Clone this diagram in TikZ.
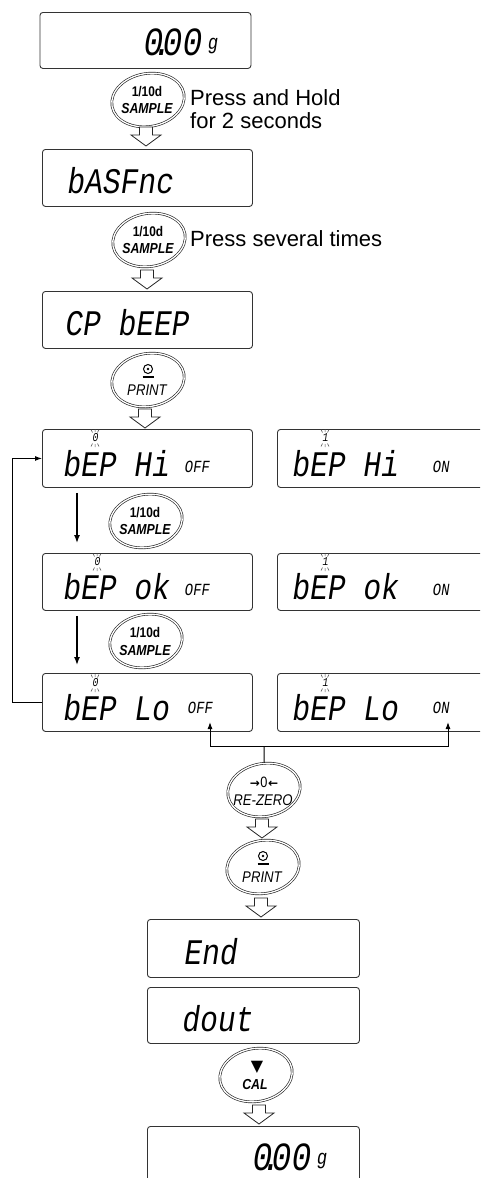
\documentclass[tikz,border=0pt]{standalone}
\usepackage{fontspec}
\setmainfont{Liberation Sans}
\newfontfamily\segf{Liberation Mono}[FakeSlant=0.15,FakeStretch=0.82]
\newfontfamily\narrowsans{Liberation Sans}[FakeStretch=0.85]
\newfontfamily\symf{DejaVu Sans}
\usetikzlibrary{shapes.geometric,arrows.meta,calc}
\newcommand\harrow[1]{\draw[harr] (#1) ++(-6.5,0) -- ++(0,8) -- ++(-8.5,0) -- ++(15,11) -- ++(15,-11) -- ++(-8.5,0) -- ++(0,-8) -- cycle;}
\newcommand\blinkmark[3]{%
  \node[font=\segf\fontsize{12}{12}\selectfont, inner sep=0pt] (#1) at (#2) {#3};
  \draw[line width=0.5pt, black!70]
    ($(#1)+(-2.5,-5.5)$) -- ($(#1)+(-4,-8.5)$) ($(#1)+(0,-6)$) -- ($(#1)+(0,-9)$) ($(#1)+(2.5,-5.5)$) -- ($(#1)+(4,-8.5)$)
    ($(#1)+(-2.5,5.5)$) -- ($(#1)+(-4,8.5)$) ($(#1)+(0,6)$) -- ($(#1)+(0,9)$) ($(#1)+(2.5,5.5)$) -- ($(#1)+(4,8.5)$);}
\begin{document}
\begin{tikzpicture}[x=1pt,y=-1pt,
 lcd/.style={draw=black!80, line width=0.9pt, rounded corners=3pt, minimum width=210pt, minimum height=57pt, anchor=north west, inner sep=0pt},
 seg/.style={font=\segf\fontsize{36}{36}\selectfont, inner sep=0pt, anchor=base west},
 segs/.style={font=\segf\fontsize{17}{17}\selectfont, inner sep=0pt, anchor=base west},
 btn/.style={ellipse, draw=black!85, double, double distance=1.3pt, line width=0.65pt, minimum width=73pt, minimum height=53pt, inner sep=0pt, rotate=10},
 bt/.style={font=\narrowsans\bfseries\itshape\fontsize{14.5}{14.5}\selectfont, inner sep=0pt},
 btu/.style={font=\narrowsans\bfseries\fontsize{14}{14}\selectfont, inner sep=0pt},
 btr/.style={font=\narrowsans\itshape\fontsize{15.5}{15.5}\selectfont, inner sep=0pt},
 harr/.style={draw=black!85, line width=0.8pt, fill=white, line join=miter},
 conn/.style={draw, line width=1pt, -{Latex[length=7pt,width=5pt]}},
 connd/.style={draw, line width=1.4pt, -{Latex[length=8pt,width=6pt]}},
 note/.style={font=\fontsize{22}{24}\selectfont, inner sep=0pt, anchor=base west},
]
\useasboundingbox (0,0) rectangle (480,1178);
\clip (0,0) rectangle (480,1178);

% ---- top display
\node[lcd, minimum width=211pt, minimum height=56pt] (d1) at (39.5,12) {};
\node[seg, font=\segf\fontsize{40}{40}\selectfont, anchor=base east] (t1) at (201,55) {0\kern-10pt.\kern-10pt00};
\node[font=\segf\fontsize{21}{21}\selectfont, inner sep=0pt, anchor=base west] (t1g) at (207,49) {g};

% ---- button 1
\node[btn] (b1) at (148,100) {};
\node[btu] (b1a) at (147,92) {1/10d};
\node[bt] (b1b) at (147,109) {SAMPLE};
\node[note] (n1) at (190,105) {Press and Hold};
\node[note] (n2) at (190,128) {for 2 seconds};
\coordinate (a1) at (146,127);
\harrow{a1}

% ---- display 2
\node[lcd] (d2) at (42,149) {};
\node[seg] (t2) at (66,193) {bASFnc};

% ---- button 2
\node[btn] (b2) at (149,240) {};
\node[btu] (b2a) at (148,232) {1/10d};
\node[bt] (b2b) at (148,249) {SAMPLE};
\node[note] (n3) at (190,246) {Press several times};
\coordinate (a2) at (147,270);
\harrow{a2}

% ---- display 3
\node[lcd] (d3) at (42,291) {};
\node[seg] (t3) at (64,335) {CP bEEP};

% ---- button 3 PRINT
\node[btn] (b3) at (148,380) {};
\draw[line width=1pt] (148,369) circle (4.5);
\fill (148,369) circle (1.4);
\draw[line width=1.1pt] (142.5,377) -- (153.5,377);
\node[btr] (b3b) at (147,390) {PRINT};
\coordinate (a3) at (145,409);
\harrow{a3}

% ---- display 4 (Hi)
\node[lcd, minimum height=58pt] (d4) at (42,429) {};
\node[seg] (t4) at (62,476) {bEP Hi};
\node[segs] (t4o) at (184,472) {OFF};
\blinkmark{m4}{95,438}{0}
\node[lcd, minimum width=230pt, minimum height=58pt] (d4r) at (277,429) {};
\node[seg] (t4r) at (291,476) {bEP Hi};
\node[segs] (t4ro) at (432,472) {ON};
\blinkmark{m4r}{325,438}{1}

% ---- button 4
\node[btn] (b4) at (146,521) {};
\node[btu] (b4a) at (145,513) {1/10d};
\node[bt] (b4b) at (145,530) {SAMPLE};

% ---- display 5 (ok)
\node[lcd] (d5) at (42,553) {};
\node[seg] (t5) at (62,599) {bEP ok};
\node[segs] (t5o) at (184,595) {OFF};
\blinkmark{m5}{97,562}{0}
\node[lcd, minimum width=230pt] (d5r) at (277,553) {};
\node[seg] (t5r) at (291,599) {bEP ok};
\node[segs] (t5ro) at (432,595) {ON};
\blinkmark{m5r}{325,562}{1}

% ---- button 5
\node[btn] (b5) at (146,641) {};
\node[btu] (b5a) at (145,633) {1/10d};
\node[bt] (b5b) at (145,650) {SAMPLE};

% ---- display 6 (Lo)
\node[lcd, minimum height=58pt] (d6) at (42,673) {};
\node[seg] (t6) at (62,720) {bEP Lo};
\node[segs] (t6o) at (187,713) {OFF};
\blinkmark{m6}{95,683}{0}
\node[lcd, minimum width=230pt, minimum height=58pt] (d6r) at (277,673) {};
\node[seg] (t6r) at (291,720) {bEP Lo};
\node[segs] (t6ro) at (432,713) {ON};
\blinkmark{m6r}{325,683}{1}

% ---- left flow arrows
\draw[connd] ($(d4.south west)+(35,5)$) -- ($(d5.north west)+(35,-10)$);
\draw[connd] ($(d5.south west)+(35,5)$) -- ($(d6.north west)+(35,-8)$);
\draw[conn] (d6.west) -- ++(-30,0) |- (d4.west);

% ---- button 6 RE-ZERO
\node[btn] (b6) at (264,790) {};
\node[font=\symf\bfseries\fontsize{12}{12}\selectfont, inner sep=0pt] (b6a) at (264,782) {→\kern0.5pt{\narrowsans\mdseries\fontsize{15}{15}\selectfont 0}\kern0.5pt←};
\node[btr] (b6b) at (263,800) {RE-ZERO};

% ---- bottom connectors
\coordinate (j) at (264,746);
\coordinate (offtip) at (210,722);
\coordinate (ontip) at (448,722);
\draw[conn] (j) -| (offtip);
\draw[conn] (j) -| (ontip);
\draw[line width=1pt] (j) -- (b6);
\coordinate (a4) at (262,819);
\harrow{a4}

% ---- button 7 PRINT
\node[btn] (b7) at (263,867) {};
\draw[line width=1pt] (263,856) circle (4.5);
\fill (263,856) circle (1.4);
\draw[line width=1.1pt] (257.5,864) -- (268.5,864);
\node[btr] (b7b) at (262,877) {PRINT};
\coordinate (a5) at (261,898);
\harrow{a5}

% ---- End / dout
\node[lcd, minimum width=212pt, minimum height=58pt] (d7) at (147,919) {};
\node[seg] (t7) at (183,964) {End};
\node[lcd, minimum width=212pt, minimum height=56pt] (d8) at (147,987) {};
\node[seg] (t8) at (181,1031) {dout};

% ---- button 8 CAL
\node[btn] (b8) at (256,1075) {};
\node[font=\symf\fontsize{16}{16}\selectfont, inner sep=0pt] (b8a) at (257,1067) {▼};
\node[bt] (b8b) at (255,1084) {CAL};
\coordinate (a6) at (259,1105);
\harrow{a6}

% ---- final display
\node[lcd, minimum width=212pt, minimum height=80pt] (d9) at (147,1126) {};
\node[seg, font=\segf\fontsize{40}{40}\selectfont, anchor=base east] (t9) at (310,1170) {0\kern-10pt.\kern-10pt00};
\node[font=\segf\fontsize{21}{21}\selectfont, inner sep=0pt, anchor=base west] (t9g) at (316,1164) {g};
\end{tikzpicture}
\end{document}
